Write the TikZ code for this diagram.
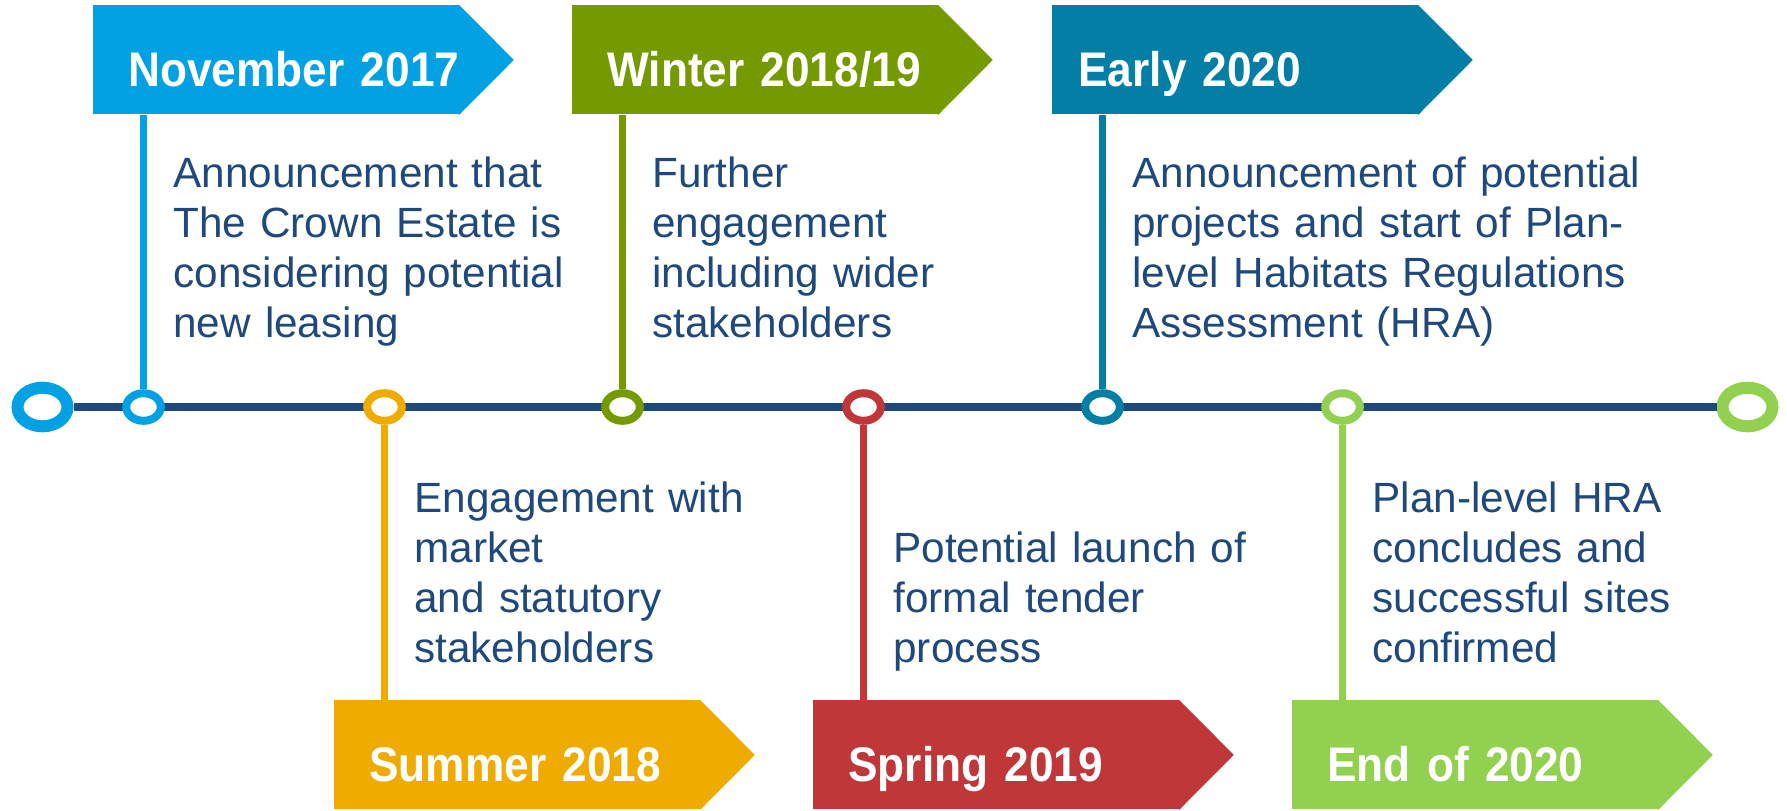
\documentclass[tikz,border=0pt]{standalone}
\usepackage{fontspec}
\setmainfont{Liberation Sans}
\newfontfamily\tagfont[FakeStretch=0.91]{Liberation Sans}
\usepackage{tikz}
\usetikzlibrary{positioning,calc,shapes.geometric}
\definecolor{navy}{HTML}{1F497D}
\definecolor{skyblue}{HTML}{02A1E4}
\definecolor{gold}{HTML}{F0AB00}
\definecolor{olive}{HTML}{749A00}
\definecolor{brick}{HTML}{C0373A}
\definecolor{petrol}{HTML}{037FA6}
\definecolor{lime}{HTML}{92D050}
\tikzset{
    tag indent/.initial=17.5pt,
    datetag/.style={fill=#1,text=white,anchor=north west,
      inner sep=0pt,minimum width=183pt,minimum height=54.5pt,
      text width=183pt,align=left,text height=27pt,text depth=0pt,
      execute at begin node={\hspace*{\pgfkeysvalueof{/tikz/tag indent}}},
      font={\tagfont\fontsize{24.3pt}{29pt}\bfseries}},
    station/.style={ellipse,draw=#1,fill=white,line width=4pt,
      minimum width=17.3pt,minimum height=13.8pt,inner sep=0pt},
    terminus/.style={ellipse,draw=#1,fill=white,line width=6pt,
      minimum width=25pt,minimum height=19.3pt,inner sep=0pt},
    stem/.style={draw=#1,line width=3.5pt},
    spine/.style={draw=navy,line width=4pt},
    eventtext/.style={anchor=base west,inner sep=0pt,text width=270pt,
      align=left,text=navy,font={\fontsize{21.15pt}{25.15pt}\selectfont}}
}

\begin{document}
\begin{tikzpicture}[x=0.5pt,y=-0.5pt]
  \useasboundingbox (0,0) rectangle (1787,810);
  % date tags, top row and bottom row
  \node[datetag=skyblue] (nov17) at (93,5) {November 2017};
  \node[datetag=olive] (win18) at (572,5) {Winter 2018/19};
  \node[datetag=petrol,tag indent=13pt] (ear20) at (1052,5) {Early 2020};
  \node[datetag=gold] (sum18) at (334,700) {Summer 2018};
  \node[datetag=brick] (spr19) at (813,700) {Spring 2019};
  \node[datetag=lime] (end20) at (1292,700) {End of 2020};
  % arrow points on the tags
  \fill[skyblue] ([xshift=-0.3pt]nov17.north east) -- ([xshift=27pt]nov17.east) -- ([xshift=-0.3pt]nov17.south east) -- cycle;
  \fill[olive] ([xshift=-0.3pt]win18.north east) -- ([xshift=27pt]win18.east) -- ([xshift=-0.3pt]win18.south east) -- cycle;
  \fill[petrol] ([xshift=-0.3pt]ear20.north east) -- ([xshift=27pt]ear20.east) -- ([xshift=-0.3pt]ear20.south east) -- cycle;
  \fill[gold] ([xshift=-0.3pt]sum18.north east) -- ([xshift=27pt]sum18.east) -- ([xshift=-0.3pt]sum18.south east) -- cycle;
  \fill[brick] ([xshift=-0.3pt]spr19.north east) -- ([xshift=27pt]spr19.east) -- ([xshift=-0.3pt]spr19.south east) -- cycle;
  \fill[lime] ([xshift=-0.3pt]end20.north east) -- ([xshift=27pt]end20.east) -- ([xshift=-0.3pt]end20.south east) -- cycle;
  % the time line
  \node[terminus=skyblue] (head) at (42.5,407) {};
  \node[terminus=lime] (tail) at (1747.5,407) {};
  \draw[spine] (head) -- (tail);
  \node[station=skyblue] (s1) at (143.5,407) {};
  \node[station=gold] (s2) at (384.5,407) {};
  \node[station=olive] (s3) at (622.5,407) {};
  \node[station=brick] (s4) at (863.5,407) {};
  \node[station=petrol] (s5) at (1102.5,407) {};
  \node[station=lime] (s6) at (1342.5,407) {};
  \draw[stem=skyblue] (s1) -- (s1 |- nov17.south);
  \draw[stem=gold] (s2) -- (s2 |- sum18.north);
  \draw[stem=olive] (s3) -- (s3 |- win18.south);
  \draw[stem=brick] (s4) -- (s4 |- spr19.north);
  \draw[stem=petrol] (s5) -- (s5 |- ear20.south);
  \draw[stem=lime] (s6) -- (s6 |- end20.north);
  % what happens at each date
  \node[eventtext] (e1) at (173,187) {Announcement that\\The Crown Estate is\\considering potential\\new leasing};
  \node[eventtext] (e2) at (414,512) {Engagement with\\market\\and statutory\\stakeholders};
  \node[eventtext] (e3) at (652,187) {Further\\engagement\\including wider\\stakeholders};
  \node[eventtext] (e4) at (893,562) {Potential launch of\\formal tender\\process};
  \node[eventtext] (e5) at (1132,187) {Announcement of potential\\projects and start of Plan-\\level Habitats Regulations\\Assessment (HRA)};
  \node[eventtext] (e6) at (1372,512) {Plan-level HRA\\concludes and\\successful sites\\confirmed};
\end{tikzpicture}
\end{document}
